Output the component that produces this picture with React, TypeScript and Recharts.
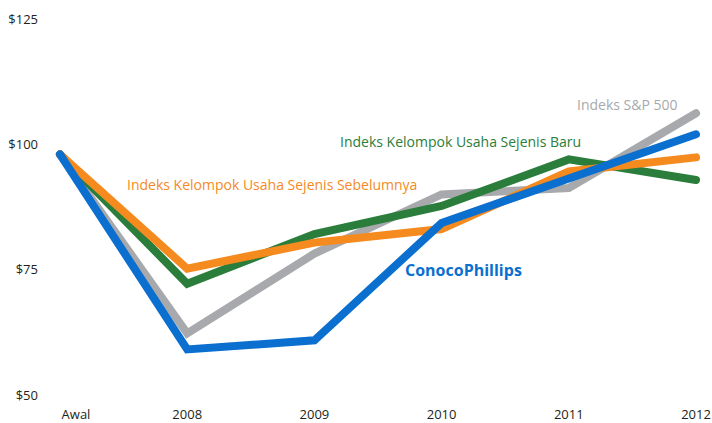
import { LineChart, Line, XAxis, YAxis } from "recharts";

const years = ["Awal", "2008", "2009", "2010", "2011", "2012"];
const conoco = [98, 59.1, 60.9, 84.3, 93.2, 102];
const sp500 = [98, 62.3, 78.2, 90, 91.3, 106.2];
const newPeer = [98, 72.2, 82.1, 87.7, 97, 92.9];
const oldPeer = [98, 75.2, 80.4, 83.1, 94.6, 97.4];
const yTicks = [50, 75, 100, 125];

const data = years.map((year, i) => ({
  year,
  conoco: conoco[i],
  sp500: sp500[i],
  newPeer: newPeer[i],
  oldPeer: oldPeer[i],
}));

const FONT = "'Open Sans', sans-serif";

function Note({ left, top, color, bold, size = 14, children }: { left: number; top: number; color: string; bold?: boolean; size?: number; children: string }) {
  return (
    <div
      style={{
        position: "absolute",
        left,
        top,
        color,
        fontFamily: FONT,
        fontSize: size,
        fontWeight: bold ? 700 : 400,
        whiteSpace: "nowrap",
        lineHeight: "18px",
      }}
    >
      {children}
    </div>
  );
}

// first label ("Awal") sits a bit to the right of its point in the original
function YearTick(props: any) {
  const { x, y, payload, index } = props;
  const shift = index === 0 ? 16 : 0;
  return (
    <text x={x + shift} y={y} dy="0.71em" textAnchor="middle" fontFamily={FONT} fontSize={13} fill="#231f20">
      {payload.value}
    </text>
  );
}

export default function App() {
  // fixed at the page corner so the body margin doesn't push it into a scrollbar
  return (
    <div style={{ position: "fixed", left: 0, top: 0, width: 712, height: 423, background: "#fff" }}>
      <LineChart width={712} height={423} data={data} margin={{ top: 19, right: 16, bottom: 0, left: 0 }}>
        <XAxis
          dataKey="year"
          axisLine={false}
          tickLine={false}
          tickSize={0}
          tickMargin={15}
          height={28}
          tick={<YearTick />}
          interval={0}
        />
        <YAxis
          domain={[50, 125]}
          ticks={yTicks}
          axisLine={false}
          tickLine={false}
          tickSize={0}
          tickMargin={22}
          width={60}
          tick={{ fontFamily: FONT, fontSize: 13, fill: "#231f20" }}
          tickFormatter={(v) => `$${v}`}
        />
        <Line dataKey="sp500" stroke="#a7a9ac" strokeWidth={8} dot={false} strokeLinecap="round" isAnimationActive={false} />
        <Line dataKey="newPeer" stroke="#2a7d3b" strokeWidth={8} dot={false} strokeLinecap="round" isAnimationActive={false} />
        <Line dataKey="oldPeer" stroke="#f58a1f" strokeWidth={8} dot={false} strokeLinecap="round" isAnimationActive={false} />
        <Line dataKey="conoco" stroke="#0a6fcf" strokeWidth={8} dot={false} strokeLinecap="round" isAnimationActive={false} />
      </LineChart>
      <Note left={577} top={96} color="#a7a9ac">Indeks S&amp;P 500</Note>
      <Note left={340} top={133} color="#2a7d3b">Indeks Kelompok Usaha Sejenis Baru</Note>
      <Note left={127} top={176} color="#f58a1f">Indeks Kelompok Usaha Sejenis Sebelumnya</Note>
      <Note left={405} top={261} color="#0a6fcf" bold size={16}>ConocoPhillips</Note>
    </div>
  );
}
